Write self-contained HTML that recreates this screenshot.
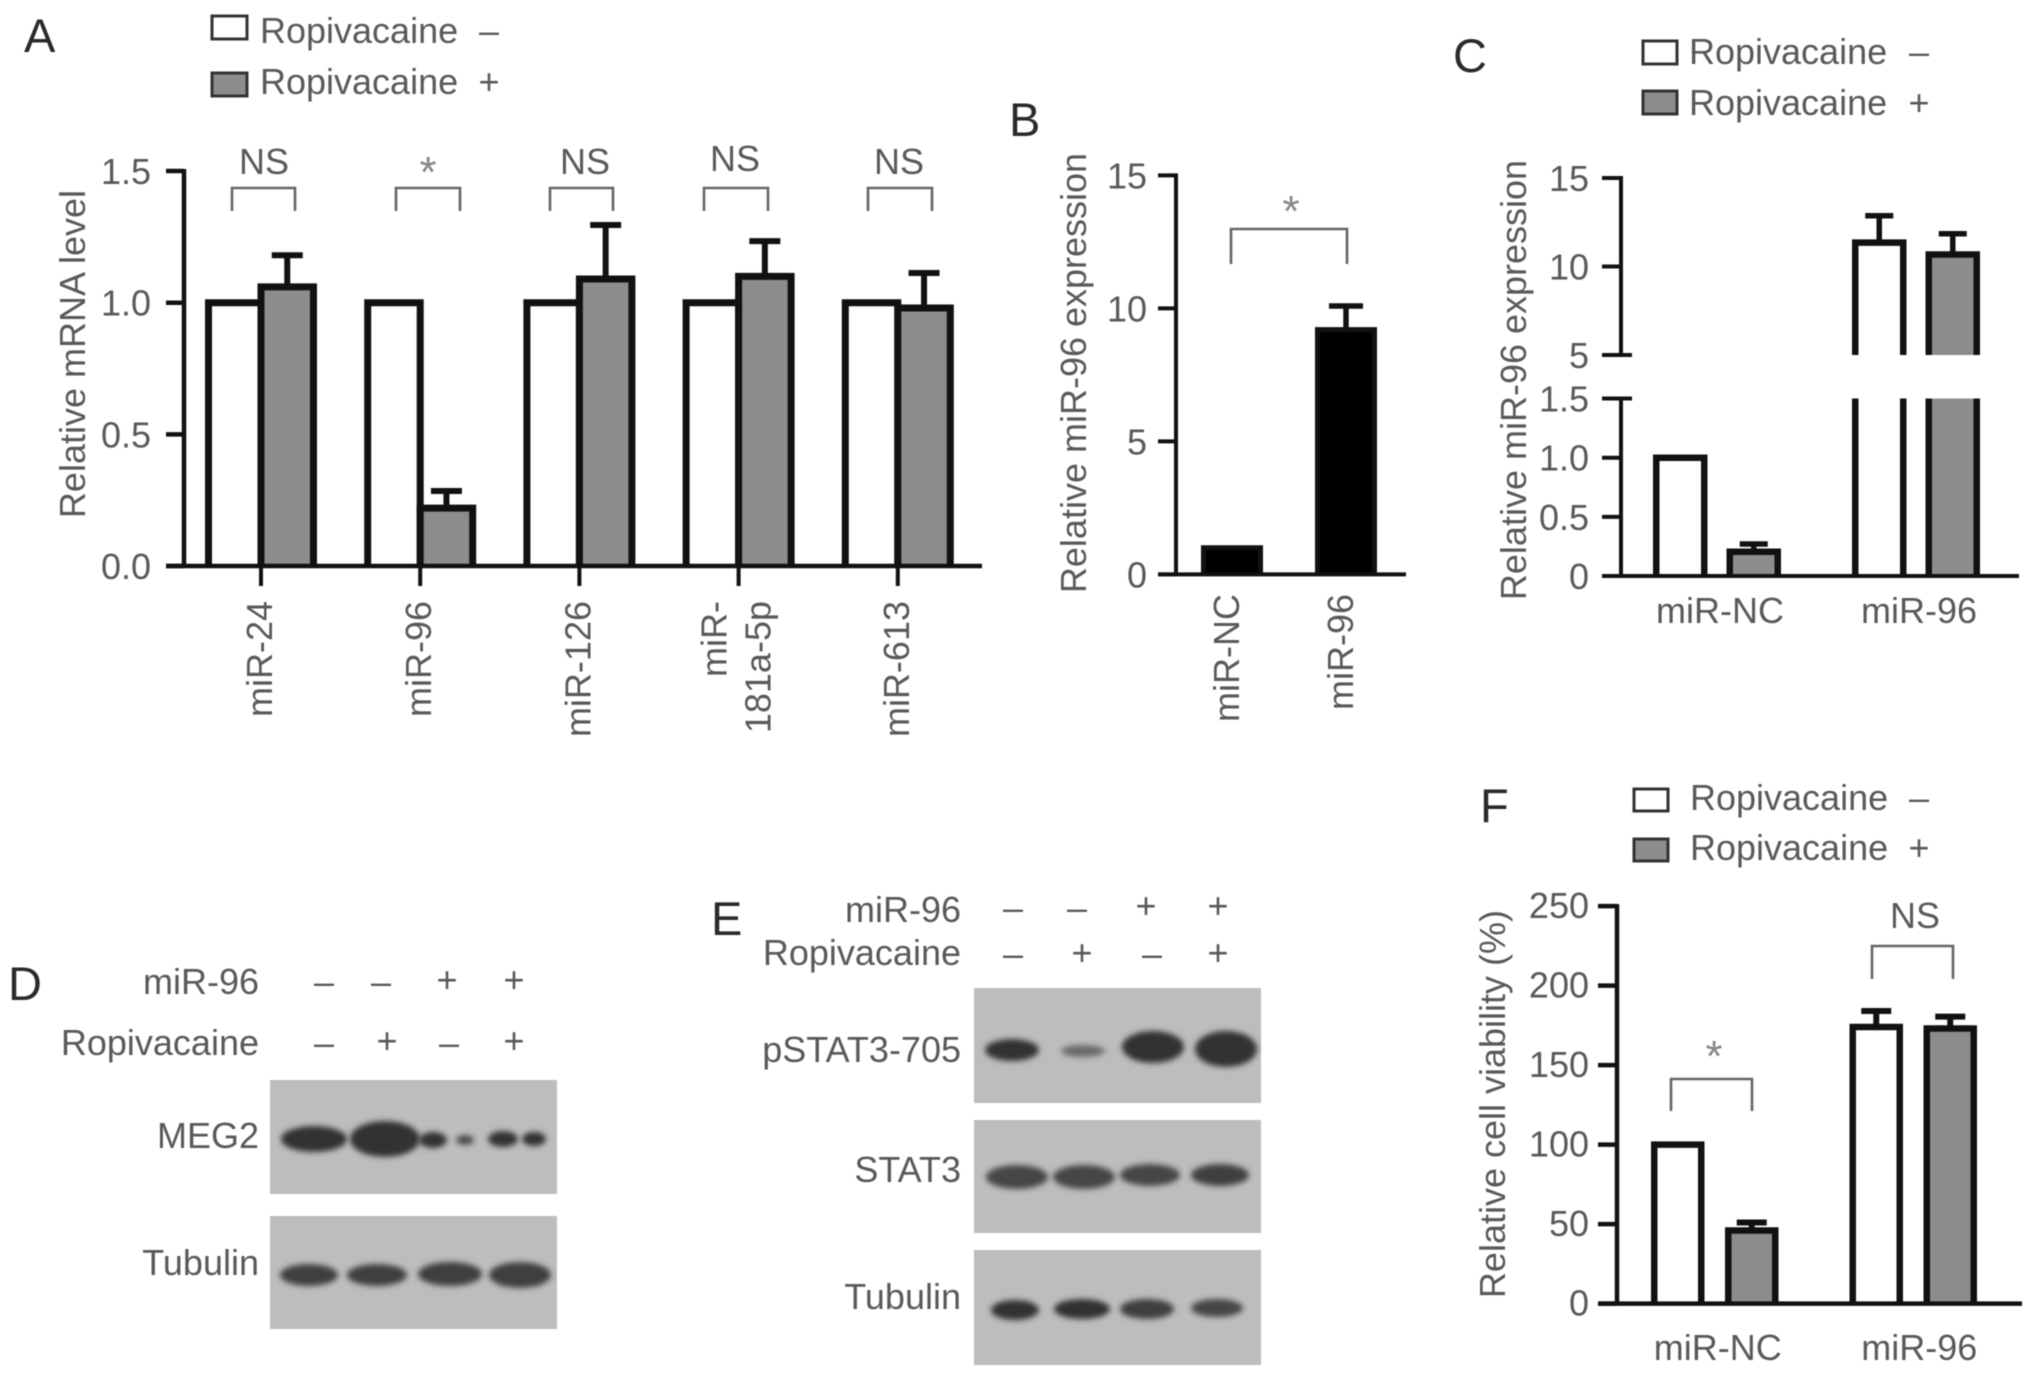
<!DOCTYPE html>
<html lang="en">
<head>
<meta charset="utf-8">
<title>Ropivacaine and miR-96 multi-panel figure</title>
<style>
  html, body { margin: 0; padding: 0; background: #fff; width: 2032px; height: 1379px; overflow: hidden; }
  svg { display: block; filter: blur(0.6px); }
  text { font-family: "Liberation Sans", sans-serif; font-size: 36px; fill: #595959; }
  .letter { font-size: 47px; fill: #2a2a2a; }
  .blot { fill: #bdbdbd; }
  .band { fill: #333; filter: url(#band-blur); }
  .bracket { fill: none; stroke: #666; stroke-width: 2.6; }
  .legend-box { stroke: #333; stroke-width: 3; }
  .star { font-size: 44px; fill: #888; text-anchor: middle; }
  .ctr { text-anchor: middle; }
  .end { text-anchor: end; }
</style>
</head>
<body>
<svg id="fig" xmlns="http://www.w3.org/2000/svg" width="2032" height="1379" viewBox="0 0 2032 1379">
  <defs>
    <filter id="band-blur" x="-30%" y="-60%" width="160%" height="220%"><feGaussianBlur stdDeviation="3"/></filter>
  </defs>
  <rect width="2032" height="1379" fill="#fff"/>

  <!-- panel letters -->
  <text class="letter" x="24" y="52">A</text>
  <text class="letter" x="1009" y="136">B</text>
  <text class="letter" x="1453" y="72">C</text>
  <text class="letter" x="8" y="1000">D</text>
  <text class="letter" x="711" y="935">E</text>
  <text class="letter" x="1480" y="822">F</text>

  <!-- legends -->
  <g>
    <rect class="legend-box" x="212" y="16" width="35" height="23" fill="#fff"/>
    <text x="260" y="43">Ropivacaine</text>
    <text class="ctr" x="489" y="43">–</text>
    <rect class="legend-box" x="212" y="73" width="35" height="23" fill="#8c8c8c"/>
    <text x="260" y="94">Ropivacaine</text>
    <text class="ctr" x="489" y="94">+</text>
  </g>
  <g>
    <rect class="legend-box" x="1643" y="41" width="34" height="23" fill="#fff"/>
    <text x="1689" y="64">Ropivacaine</text>
    <text class="ctr" x="1919" y="64">–</text>
    <rect class="legend-box" x="1643" y="91" width="34" height="23" fill="#8c8c8c"/>
    <text x="1689" y="115">Ropivacaine</text>
    <text class="ctr" x="1919" y="115">+</text>
  </g>
  <g>
    <rect class="legend-box" x="1639" y="789" width="34" height="22" fill="#fff" transform="translate(-5 0)"/>
    <text x="1690" y="810">Ropivacaine</text>
    <text class="ctr" x="1919" y="810">–</text>
    <rect class="legend-box" x="1639" y="839" width="34" height="22" fill="#8c8c8c" transform="translate(-5 0)"/>
    <text x="1690" y="860">Ropivacaine</text>
    <text class="ctr" x="1919" y="860">+</text>
  </g>

  <!-- significance annotations -->
  <g>
    <text class="ctr" x="264" y="174">NS</text>
    <path class="bracket" d="M232 211V188H295V211"/>
    <text class="star" x="428" y="187">*</text>
    <path class="bracket" d="M396 211V188H460V211"/>
    <text class="ctr" x="585" y="174">NS</text>
    <path class="bracket" d="M550 211V188H613V211"/>
    <text class="ctr" x="735" y="171">NS</text>
    <path class="bracket" d="M704 211V188H768V211"/>
    <text class="ctr" x="899" y="174">NS</text>
    <path class="bracket" d="M868 211V188H932V211"/>
  </g>
  <g>
    <text class="star" x="1291" y="226">*</text>
    <path class="bracket" d="M1235 264V229H1351V264" transform="translate(-4 0)"/>
  </g>
  <g>
    <text class="star" x="1719" y="1071" transform="translate(-5 0)">*</text>
    <path class="bracket" d="M1671 1111V1079H1752V1111"/>
    <text class="ctr" x="1915" y="928">NS</text>
    <path class="bracket" d="M1872 979V946H1953V979"/>
  </g>

  <!-- panel D blot -->
  <g>
    <text class="end" x="259" y="994">miR-96</text>
    <text class="end" x="259" y="1055">Ropivacaine</text>
    <text class="ctr" x="324" y="994">–</text>
    <text class="ctr" x="381" y="994">–</text>
    <text class="ctr" x="447" y="992">+</text>
    <text class="ctr" x="514" y="992">+</text>
    <text class="ctr" x="324" y="1055">–</text>
    <text class="ctr" x="387" y="1053">+</text>
    <text class="ctr" x="449" y="1055">–</text>
    <text class="ctr" x="514" y="1053">+</text>
    <text class="end" x="259" y="1148">MEG2</text>
    <text class="end" x="259" y="1275">Tubulin</text>
    <rect class="blot" x="270" y="1080" width="287" height="114"/>
    <ellipse class="band" cx="314" cy="1139" rx="33" ry="13"/>
    <ellipse class="band" cx="385" cy="1139" rx="35" ry="18"/>
    <ellipse class="band" cx="433" cy="1140" rx="14" ry="8"/>
    <ellipse class="band" cx="465" cy="1140" rx="9" ry="5" style="opacity:.8"/>
    <ellipse class="band" cx="503" cy="1139" rx="15" ry="8"/>
    <ellipse class="band" cx="534" cy="1139" rx="12" ry="7"/>
    <rect class="blot" x="270" y="1216" width="287" height="113"/>
    <ellipse class="band" cx="309" cy="1275" rx="29" ry="11" style="opacity:.9"/>
    <ellipse class="band" cx="377" cy="1275" rx="30" ry="11" style="opacity:.9"/>
    <ellipse class="band" cx="450" cy="1274" rx="32" ry="12" style="opacity:.9"/>
    <ellipse class="band" cx="520" cy="1275" rx="31" ry="13" style="opacity:.9"/>
  </g>

  <!-- panel E blot -->
  <g transform="translate(-5 0)">
    <text class="end" x="966" y="922">miR-96</text>
    <text class="end" x="966" y="965">Ropivacaine</text>
    <text class="ctr" x="1018" y="920">–</text>
    <text class="ctr" x="1082" y="920">–</text>
    <text class="ctr" x="1151" y="918">+</text>
    <text class="ctr" x="1223" y="918">+</text>
    <text class="ctr" x="1018" y="966">–</text>
    <text class="ctr" x="1087" y="965">+</text>
    <text class="ctr" x="1157" y="966">–</text>
    <text class="ctr" x="1223" y="965">+</text>
    <text class="end" x="966" y="1062">pSTAT3-705</text>
    <text class="end" x="966" y="1182">STAT3</text>
    <text class="end" x="966" y="1309">Tubulin</text>
    <rect class="blot" x="979" y="988" width="287" height="115"/>
    <ellipse class="band" cx="1017" cy="1050" rx="27" ry="11"/>
    <ellipse class="band" cx="1088" cy="1051" rx="22" ry="6" style="opacity:.6"/>
    <ellipse class="band" cx="1158" cy="1047" rx="31" ry="16"/>
    <ellipse class="band" cx="1231" cy="1049" rx="31" ry="18"/>
    <rect class="blot" x="979" y="1120" width="287" height="113"/>
    <ellipse class="band" cx="1022" cy="1177" rx="31" ry="12" style="opacity:.85"/>
    <ellipse class="band" cx="1089" cy="1177" rx="31" ry="12" style="opacity:.85"/>
    <ellipse class="band" cx="1155" cy="1175" rx="30" ry="11" style="opacity:.85"/>
    <ellipse class="band" cx="1225" cy="1175" rx="29" ry="11" style="opacity:.9"/>
    <rect class="blot" x="979" y="1250" width="287" height="115"/>
    <ellipse class="band" cx="1020" cy="1310" rx="24" ry="10"/>
    <ellipse class="band" cx="1087" cy="1309" rx="28" ry="10"/>
    <ellipse class="band" cx="1152" cy="1309" rx="27" ry="10" style="opacity:.9"/>
    <ellipse class="band" cx="1222" cy="1308" rx="26" ry="9" style="opacity:.85"/>
  </g>
</svg>

<script>
// Panel A data
const aCategories = ['miR-24', 'miR-96', 'miR-126', ['miR-', '181a-5p'], 'miR-613'];
const aTickValues = [0, 0.5, 1, 1.5];
const aTickLabels = ['0.0', '0.5', '1.0', '1.5'];
const aControl = [1, 1, 1, 1, 1];
const aTreated = [1.06, 0.22, 1.09, 1.10, 0.98];
const aTreatedErrorTop = [1.18, 0.285, 1.295, 1.234, 1.113];

// Panel B data
const bCategories = ['miR-NC', 'miR-96'];
const bTickValues = [0, 5, 10, 15];
const bTickLabels = ['0', '5', '10', '15'];
const bValues = [1, 9.2];
const bErrorTop = [1, 10.09];

// Panel C data
const cCategories = ['miR-NC', 'miR-96'];
const cTickValues = [0, 0.5, 1, 1.5, 5, 10, 15];
const cTickLabels = ['0', '0.5', '1.0', '1.5', '5', '10', '15'];
const cControl = [1, 11.35];
const cControlErrorTop = [1, 12.87];
const cTreated = [0.205, 10.68];
const cTreatedErrorTop = [0.27, 11.85];

// Panel F data
const fCategories = ['miR-NC', 'miR-96'];
const fTickValues = [0, 50, 100, 150, 200, 250];
const fTickLabels = ['0', '50', '100', '150', '200', '250'];
const fControl = [100, 174];
const fControlErrorTop = [100, 184];
const fTreated = [46, 173];
const fTreatedErrorTop = [51, 180.5];

const NS = 'http://www.w3.org/2000/svg';
const root = document.getElementById('fig');
const GRAY = '#8c8c8c';

function make(parent, tag, name) {
  const el = document.createElementNS(NS, tag);
  
  
  parent.appendChild(el);
  return el;
}
function setAttrs(el, attrs) {
  for (const k in attrs) el.setAttribute(k, attrs[k]);
  return el;
}
function line(parent, x1, y1, x2, y2, w, name) {
  return setAttrs(make(parent, 'line', name), { x1, y1, x2, y2, stroke: '#111', 'stroke-width': w });
}
function label(parent, x, y, str, anchor, name, rotate) {
  const t = make(parent, 'text', name);
  setAttrs(t, { x, y, 'text-anchor': anchor });
  if (rotate) t.setAttribute('transform', 'rotate(-90 ' + x + ' ' + y + ')');
  t.textContent = str;
  return t;
}
function bar(parent, cx, w, yBase, yTop, fill, sw, name) {
  const p = make(parent, 'path', name);
  const l = cx - w / 2, r = cx + w / 2;
  setAttrs(p, { d: 'M' + l + ' ' + yBase + 'V' + yTop + 'H' + r + 'V' + yBase, fill: fill, stroke: '#111', 'stroke-width': sw });
  return p;
}
function errorBar(parent, cx, yFrom, yTo, cap, sw, name) {
  const g = make(parent, 'g', name);
  line(g, cx, yFrom, cx, yTo, sw, 'error-stem');
  line(g, cx - cap / 2, yTo, cx + cap / 2, yTo, sw, 'error-cap');
}

// ---------- Panel A ----------
(function () {
  const g = make(root, 'g', 'chart-panel-a');
  const y = v => 566 - v * 263.3;
  const x = i => 261 + i * 159.2;
  const barW = 52.5, sw = 7;
  label(g, 85, 354, 'Relative mRNA level', 'middle', 'y-axis-title', true);
  aCategories.forEach((c, i) => {
    bar(g, x(i) - barW / 2, barW, y(0), y(aControl[i]), '#fff', sw, 'bar-control-' + i);
    bar(g, x(i) + barW / 2, barW, y(0), y(aTreated[i]), GRAY, sw, 'bar-treated-' + i);
    errorBar(g, x(i) + barW / 2, y(aTreated[i]), y(aTreatedErrorTop[i]), 31, 6, 'error-bar-treated-' + i);
    line(g, x(i), y(0), x(i), y(0) + 20, 4, 'x-tick');
    if (Array.isArray(c)) {
      label(g, x(i) - 12, 601, c[0], 'end', 'x-tick-label', true);
      label(g, x(i) + 32, 601, c[1], 'end', 'x-tick-label', true);
    } else {
      label(g, x(i) + 11, 601, c, 'end', 'x-tick-label', true);
    }
  });
  line(g, 184, y(1.5) - 2, 184, y(0), 4.5, 'y-axis');
  line(g, 166, y(0), 982, y(0), 4.5, 'x-axis');
  aTickValues.forEach((v, i) => {
    line(g, 166, y(v), 184, y(v), 4.5, 'y-tick');
    label(g, 151, y(v) + 13, aTickLabels[i], 'end', 'y-tick-label');
  });
})();

// ---------- Panel B ----------
(function () {
  const g = make(root, 'g', 'chart-panel-b');
  const y = v => 574.4 - v * 26.6;
  const x = i => 1232 + i * 114;
  label(g, 1086, 373, 'Relative miR-96 expression', 'middle', 'y-axis-title', true);
  bCategories.forEach((c, i) => {
    bar(g, x(i), 57, y(0), y(bValues[i]), '#000', 5, 'bar-' + i);
    if (bErrorTop[i] > bValues[i]) errorBar(g, x(i), y(bValues[i]), y(bErrorTop[i]), 34, 5.5, 'error-bar-' + i);
    label(g, x(i) + 7, 594, c, 'end', 'x-tick-label', true);
  });
  line(g, 1176, y(15) - 2, 1176, y(0), 4, 'y-axis');
  line(g, 1158, y(0), 1406, y(0), 4, 'x-axis');
  bTickValues.forEach((v, i) => {
    line(g, 1158, y(v), 1176, y(v), 4, 'y-tick');
    label(g, 1147, y(v) + 13, bTickLabels[i], 'end', 'y-tick-label');
  });
})();

// ---------- Panel C (broken axis) ----------
(function () {
  const g = make(root, 'g', 'chart-panel-c');
  const breakLow = 1.5, breakHigh = 5;
  const y = v => v <= breakLow ? 576 - v * 118.3 : 355 - (v - breakHigh) * 17.7;
  const x = i => 1717 + i * 199;
  const off = 36.75, barW = 48, sw = 6.5;
  function brokenBar(cx, v, fill, name) {
    if (v <= breakLow) { bar(g, cx, barW, y(0), y(v), fill, sw, name); return; }
    const lower = make(g, 'g', name + '-lower');
    setAttrs(make(lower, 'rect', 'bar-fill'), { x: cx - barW / 2, y: y(breakLow), width: barW, height: y(0) - y(breakLow), fill: fill });
    line(lower, cx - barW / 2, y(breakLow), cx - barW / 2, y(0), sw, 'bar-edge');
    line(lower, cx + barW / 2, y(breakLow), cx + barW / 2, y(0), sw, 'bar-edge');
    bar(g, cx, barW, y(breakHigh), y(v), fill, sw, name + '-upper');
  }
  label(g, 1526, 380, 'Relative miR-96 expression', 'middle', 'y-axis-title', true);
  cCategories.forEach((c, i) => {
    brokenBar(x(i) - off, cControl[i], '#fff', 'bar-control-' + i);
    brokenBar(x(i) + off, cTreated[i], GRAY, 'bar-treated-' + i);
    if (cControlErrorTop[i] > cControl[i]) errorBar(g, x(i) - off, y(cControl[i]), y(cControlErrorTop[i]), 28, 5.5, 'error-bar-control-' + i);
    if (cTreatedErrorTop[i] > cTreated[i]) errorBar(g, x(i) + off, y(cTreated[i]), y(cTreatedErrorTop[i]), 28, 5.5, 'error-bar-treated-' + i);
    label(g, x(i) + 3, 623, c, 'middle', 'x-tick-label');
  });
  line(g, 1621, y(15) - 2, 1621, y(breakHigh), 4, 'y-axis-upper');
  line(g, 1621, y(breakLow), 1621, y(0), 4, 'y-axis-lower');
  line(g, 1602, y(0), 2019, y(0), 4, 'x-axis');
  cTickValues.forEach((v, i) => {
    const long = v === breakLow || v === breakHigh;
    line(g, 1602, y(v), long ? 1632 : 1621, y(v), 4, 'y-tick');
    label(g, 1589, y(v) + 13, cTickLabels[i], 'end', 'y-tick-label');
  });
})();

// ---------- Panel F ----------
(function () {
  const g = make(root, 'g', 'chart-panel-f');
  const y = v => 1303.6 - v * 1.59;
  const x = i => 1714.75 + i * 198.5;
  const off = 37, barW = 47, sw = 6.5;
  label(g, 1505, 1104, 'Relative cell viability (%)', 'middle', 'y-axis-title', true);
  fCategories.forEach((c, i) => {
    bar(g, x(i) - off, barW, y(0), y(fControl[i]), '#fff', sw, 'bar-control-' + i);
    bar(g, x(i) + off, barW, y(0), y(fTreated[i]), GRAY, sw, 'bar-treated-' + i);
    if (fControlErrorTop[i] > fControl[i]) errorBar(g, x(i) - off, y(fControl[i]), y(fControlErrorTop[i]), 30, 6, 'error-bar-control-' + i);
    if (fTreatedErrorTop[i] > fTreated[i]) errorBar(g, x(i) + off, y(fTreated[i]), y(fTreatedErrorTop[i]), 30, 6, 'error-bar-treated-' + i);
    label(g, x(i) + 3 + i * 3, 1360, c, 'middle', 'x-tick-label');
  });
  line(g, 1617, y(250) - 2, 1617, y(0), 4.5, 'y-axis');
  line(g, 1598, y(0), 2022, y(0), 4.5, 'x-axis');
  fTickValues.forEach((v, i) => {
    line(g, 1598, y(v), 1617, y(v), 4.5, 'y-tick');
    label(g, 1589, y(v) + 12, fTickLabels[i], 'end', 'y-tick-label');
  });
})();
</script>
</body>
</html>
